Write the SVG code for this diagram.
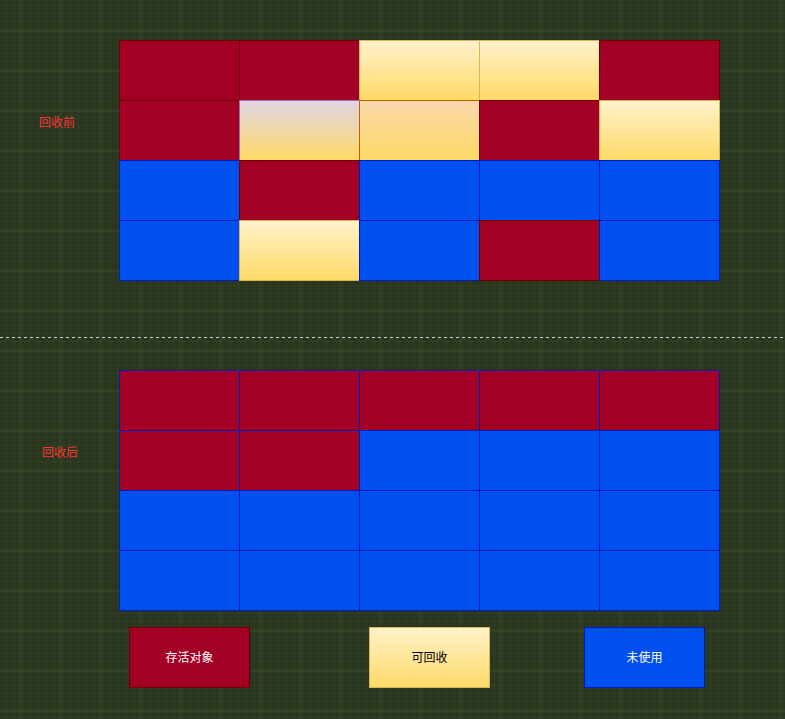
<svg xmlns="http://www.w3.org/2000/svg" width="785" height="719" viewBox="0 0 785 719">
<defs>
<pattern id="minor" width="8" height="8" patternUnits="userSpaceOnUse" x="-1" y="-2">
<path d="M8 0V8M0 8H8" fill="none" stroke="#34452a" stroke-width="1"/>
</pattern>
<pattern id="major" width="40" height="40" patternUnits="userSpaceOnUse" x="19.5" y="30.5">
<path d="M0 0V40M0 0H40" fill="none" stroke="#43592f" stroke-width="1"/>
</pattern>
<linearGradient id="gy" x1="0" y1="0" x2="0" y2="1"><stop offset="0" stop-color="#fff2cc"/><stop offset="1" stop-color="#ffd966"/></linearGradient>
<linearGradient id="gp" x1="0" y1="0" x2="0" y2="1"><stop offset="0" stop-color="#e1d5e7"/><stop offset="1" stop-color="#ffd966"/></linearGradient>
<linearGradient id="go" x1="0" y1="0" x2="0" y2="1"><stop offset="0" stop-color="#fad7ac"/><stop offset="1" stop-color="#ffd966"/></linearGradient>
</defs>
<style>
.r{fill:#a20025;stroke:#6f0000}
.b{fill:#0050ef;stroke:#001dbc}
.y{fill:url(#gy);stroke:#d6b656}
.p{fill:url(#gp);stroke:#9673a6}
.o{fill:url(#go);stroke:#b46504}
.rb{fill:#a20025;stroke:#001dbc}
.lbl{font-family:"Noto Sans CJK SC","Liberation Sans",sans-serif;font-size:12px;fill:#ff3333;text-anchor:middle}
.t{font-family:"Noto Sans CJK SC","Liberation Sans",sans-serif;font-size:12px;text-anchor:middle}
</style>
<rect width="785" height="719" fill="#2a371e"/>
<rect width="785" height="719" fill="url(#minor)"/>
<rect width="785" height="719" fill="url(#major)"/>

<g id="before" transform="translate(-0.5,0.5)">
<rect class="r" x="120" y="40" width="120" height="60"/>
<rect class="r" x="240" y="40" width="120" height="60"/>
<rect class="y" x="360" y="40" width="120" height="60"/>
<rect class="y" x="480" y="40" width="120" height="60"/>
<rect class="r" x="600" y="40" width="120" height="60"/>
<rect class="r" x="120" y="100" width="120" height="60"/>
<rect class="p" x="240" y="100" width="120" height="60"/>
<rect class="o" x="360" y="100" width="120" height="60"/>
<rect class="r" x="480" y="100" width="120" height="60"/>
<rect class="y" x="600" y="100" width="120" height="60"/>
<rect class="b" x="120" y="160" width="120" height="60"/>
<rect class="r" x="240" y="160" width="120" height="60"/>
<rect class="b" x="360" y="160" width="120" height="60"/>
<rect class="b" x="480" y="160" width="120" height="60"/>
<rect class="b" x="600" y="160" width="120" height="60"/>
<rect class="b" x="120" y="220" width="120" height="60"/>
<rect class="y" x="240" y="220" width="120" height="60"/>
<rect class="b" x="360" y="220" width="120" height="60"/>
<rect class="r" x="480" y="220" width="120" height="60"/>
<rect class="b" x="600" y="220" width="120" height="60"/>
</g>

<g id="after" transform="translate(-0.5,0.5)">
<rect class="rb" x="120" y="370" width="120" height="60"/>
<rect class="rb" x="240" y="370" width="120" height="60"/>
<rect class="rb" x="360" y="370" width="120" height="60"/>
<rect class="rb" x="480" y="370" width="120" height="60"/>
<rect class="rb" x="600" y="370" width="120" height="60"/>
<rect class="rb" x="120" y="430" width="120" height="60"/>
<rect class="rb" x="240" y="430" width="120" height="60"/>
<rect class="b" x="360" y="430" width="120" height="60"/>
<rect class="b" x="480" y="430" width="120" height="60"/>
<rect class="b" x="600" y="430" width="120" height="60"/>
<rect class="b" x="120" y="490" width="120" height="60"/>
<rect class="b" x="240" y="490" width="120" height="60"/>
<rect class="b" x="360" y="490" width="120" height="60"/>
<rect class="b" x="480" y="490" width="120" height="60"/>
<rect class="b" x="600" y="490" width="120" height="60"/>
<rect class="b" x="120" y="550" width="120" height="60"/>
<rect class="b" x="240" y="550" width="120" height="60"/>
<rect class="b" x="360" y="550" width="120" height="60"/>
<rect class="b" x="480" y="550" width="120" height="60"/>
<rect class="b" x="600" y="550" width="120" height="60"/>
</g>

<g id="divider">
<line x1="0" y1="337.5" x2="785" y2="337.5" stroke="#d0d4c4" stroke-width="1" stroke-dasharray="3 3"/>
</g>

<g id="label-before"><text class="lbl" x="57" y="127">回收前</text></g>
<g id="label-after"><text class="lbl" x="60" y="457">回收后</text></g>

<g id="legend-live">
<rect class="r" x="129.5" y="627.5" width="120" height="60"/>
<text class="t" x="189.5" y="662" fill="#ffffff">存活对象</text>
</g>
<g id="legend-reclaim">
<rect class="y" x="369.5" y="627.5" width="120" height="60"/>
<text class="t" x="429.5" y="662" fill="#000000">可回收</text>
</g>
<g id="legend-unused">
<rect class="b" x="584.5" y="627.5" width="120" height="60"/>
<text class="t" x="644.5" y="662" fill="#ffffff">未使用</text>
</g>
</svg>
